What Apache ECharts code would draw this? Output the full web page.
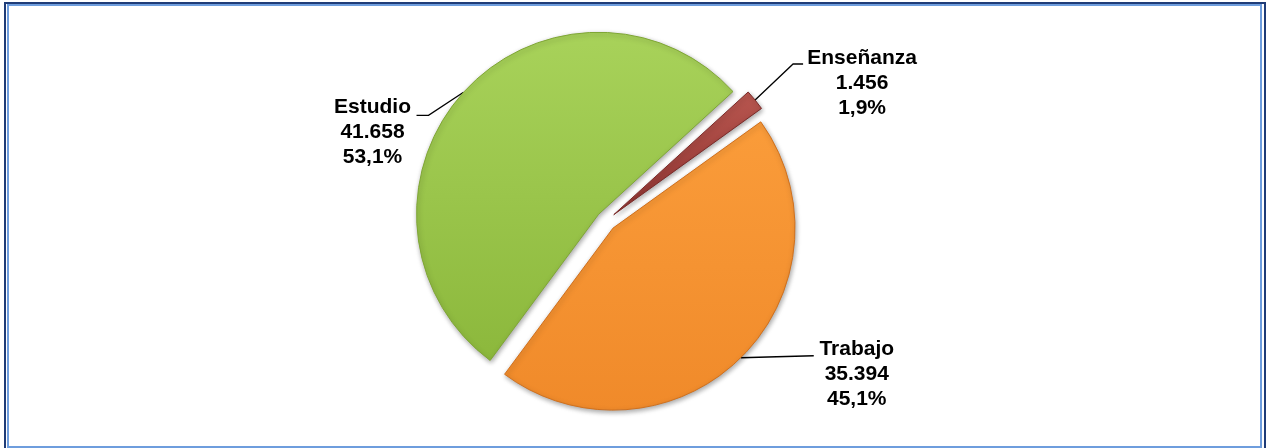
<!DOCTYPE html>
<html>
<head>
<meta charset="utf-8">
<script src="https://cdn.jsdelivr.net/npm/echarts@6/dist/echarts.min.js"></script>
<style>
    html, body { margin: 0; padding: 0; background: #fff; }
    #chart { position: absolute; left: 0; top: 0; width: 1266px; height: 448px; }
    .frame-out { position: absolute; left: 4px; top: 2px; width: 1258px; height: 460px; border: 2px solid #1f3c78; pointer-events: none; }
    .frame-in { position: absolute; left: 7px; top: 4px; width: 1251px; height: 440px; border: 2px solid #6e9ddd; pointer-events: none; }
</style>
</head>
<body>
<div id="chart"></div>
<div class="frame-out"></div>
<div class="frame-in"></div>
<script>
    // ========= 数据 =========
    const categories = ["Enseñanza", "Trabajo", "Estudio"];
    const values = [1456, 35394, 41658];

    // ========= 样式 =========
    const sliceColors = [
        ["#b8564f", "#8f3431"],
        ["#fa9c3a", "#f08a2a"],
        ["#a8d25a", "#8cb83c"]
    ];
    const sliceBorders = ["#7a2a28", "#d0701d", "#7fa635"];

    const CX = 606, CY = 221, R = 182, START = 42.4, EXPLODE = 10;

    // label offset relative to the leader line start (on slice edge)
    const labelOffsets = [
        { line: [[38, -36], [48, -36]], text: [107, -17] },
        { line: [[36, -1], [73, -2]], text: [116, 16] },
        { line: [[-35, 23], [-47, 23]], text: [-91, 40] }
    ];

    function fmtNum(v) {
        return String(v).replace(/\B(?=(\d{3})+(?!\d))/g, ".");
    }

    // 每个扇区的中间角度（用于分离效果）
    const total = values.reduce((a, b) => a + b, 0);
    const midAngles = [];
    let acc = START;
    values.forEach(v => {
        const span = v / total * 360;
        midAngles.push((acc - span / 2) * Math.PI / 180);
        acc -= span;
    });

    const hidden = {
        itemStyle: { color: "rgba(0,0,0,0)", borderWidth: 0, shadowBlur: 0, shadowColor: "rgba(0,0,0,0)" },
        label: { show: false },
        labelLine: { show: false }
    };

    function makeSeries(k) {
        return {
            type: "pie",
            center: [CX + EXPLODE * Math.cos(midAngles[k]), CY - EXPLODE * Math.sin(midAngles[k])],
            radius: R,
            startAngle: START,
            clockwise: true,
            silent: true,
            emphasis: { disabled: true },
            data: categories.map((name, i) => {
                if (i !== k) return Object.assign({ name, value: values[i] }, hidden);
                return {
                    name,
                    value: values[i],
                    itemStyle: {
                        color: {
                            type: "linear", x: 0, y: 0, x2: 0, y2: 1,
                            colorStops: [
                                { offset: 0, color: sliceColors[i][0] },
                                { offset: 1, color: sliceColors[i][1] }
                            ]
                        },
                        borderColor: sliceBorders[i],
                        borderWidth: 1,
                        shadowBlur: 5,
                        shadowOffsetX: 1,
                        shadowOffsetY: 2,
                        shadowColor: "rgba(0,0,0,0.35)"
                    }
                };
            }),
            label: {
                show: true,
                position: "outside",
                fontFamily: "Liberation Sans, Arial, sans-serif",
                fontWeight: "bold",
                fontSize: 21,
                lineHeight: 25,
                color: "#000",
                align: "center",
                formatter: p => p.name + "\n" + fmtNum(p.value) + "\n" + p.percent.toFixed(1).replace(".", ",") + "%"
            },
            labelLine: {
                show: true,
                lineStyle: { color: "#000", width: 1.3 }
            },
            labelLayout: params => {
                if (params.dataIndex !== k) return {};
                const off = labelOffsets[k];
                const s = params.labelLinePoints[0];
                return {
                    x: s[0] + off.text[0],
                    y: s[1] + off.text[1],
                    align: "center",
                    verticalAlign: "middle",
                    labelLinePoints: [
                        [s[0], s[1]],
                        [s[0] + off.line[0][0], s[1] + off.line[0][1]],
                        [s[0] + off.line[1][0], s[1] + off.line[1][1]]
                    ]
                };
            }
        };
    }

    const chart = echarts.init(document.getElementById("chart"));
    chart.setOption({
        animation: false,
        series: [makeSeries(2), makeSeries(1), makeSeries(0)]
    });
</script>
</body>
</html>
